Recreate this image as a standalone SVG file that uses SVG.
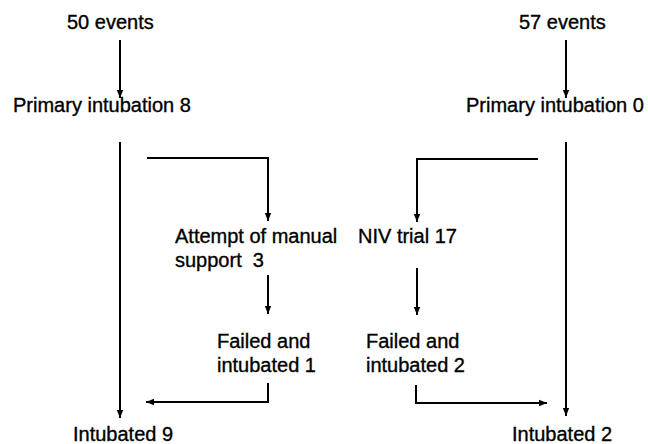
<svg xmlns="http://www.w3.org/2000/svg" width="648" height="444" viewBox="0 0 648 444">
<style>
text{font-family:"Liberation Sans",Arial,sans-serif;font-size:20px;fill:#000;stroke:#000;stroke-width:0.35}
.c{fill:none;stroke:#000;stroke-width:2}
</style>
<defs>
<marker id="ah" markerUnits="userSpaceOnUse" markerWidth="9" markerHeight="8" refX="8" refY="4" orient="auto">
<path d="M0,0.8 L8,4 L0,7.2 z" fill="#000"/>
</marker>
</defs>
<rect width="648" height="444" fill="#fff"/>
<g id="connectors">
<path class="c" d="M120,40 V98" marker-end="url(#ah)"/>
<path class="c" d="M566,40 V98" marker-end="url(#ah)"/>
<path class="c" d="M120,142 V418" marker-end="url(#ah)"/>
<path class="c" d="M566,142 V416" marker-end="url(#ah)"/>
<path class="c" d="M147,158 H268 V221" marker-end="url(#ah)"/>
<path class="c" d="M538,159 H417 V222" marker-end="url(#ah)"/>
<path class="c" d="M268,275 V314" marker-end="url(#ah)"/>
<path class="c" d="M417,268 V315" marker-end="url(#ah)"/>
<path class="c" d="M268,383 V402 H146" marker-end="url(#ah)"/>
<path class="c" d="M416,385 V403 H547" marker-end="url(#ah)"/>
</g>
<g id="n-50events"><text x="67" y="29">50 events</text></g>
<g id="n-57events"><text x="519" y="29">57 events</text></g>
<g id="n-primary8"><text x="13" y="112">Primary intubation 8</text></g>
<g id="n-primary0"><text x="466" y="112">Primary intubation 0</text></g>
<g id="n-manual"><text x="175" y="243">Attempt of manual</text><text x="175" y="267" xml:space="preserve">support  3</text></g>
<g id="n-niv"><text x="358" y="243">NIV trial 17</text></g>
<g id="n-failed1"><text x="217" y="348">Failed and</text><text x="217" y="372">intubated 1</text></g>
<g id="n-failed2"><text x="366" y="348">Failed and</text><text x="366" y="372">intubated 2</text></g>
<g id="n-intubated9"><text x="73" y="441">Intubated 9</text></g>
<g id="n-intubated2"><text x="512" y="441">Intubated 2</text></g>
</svg>
